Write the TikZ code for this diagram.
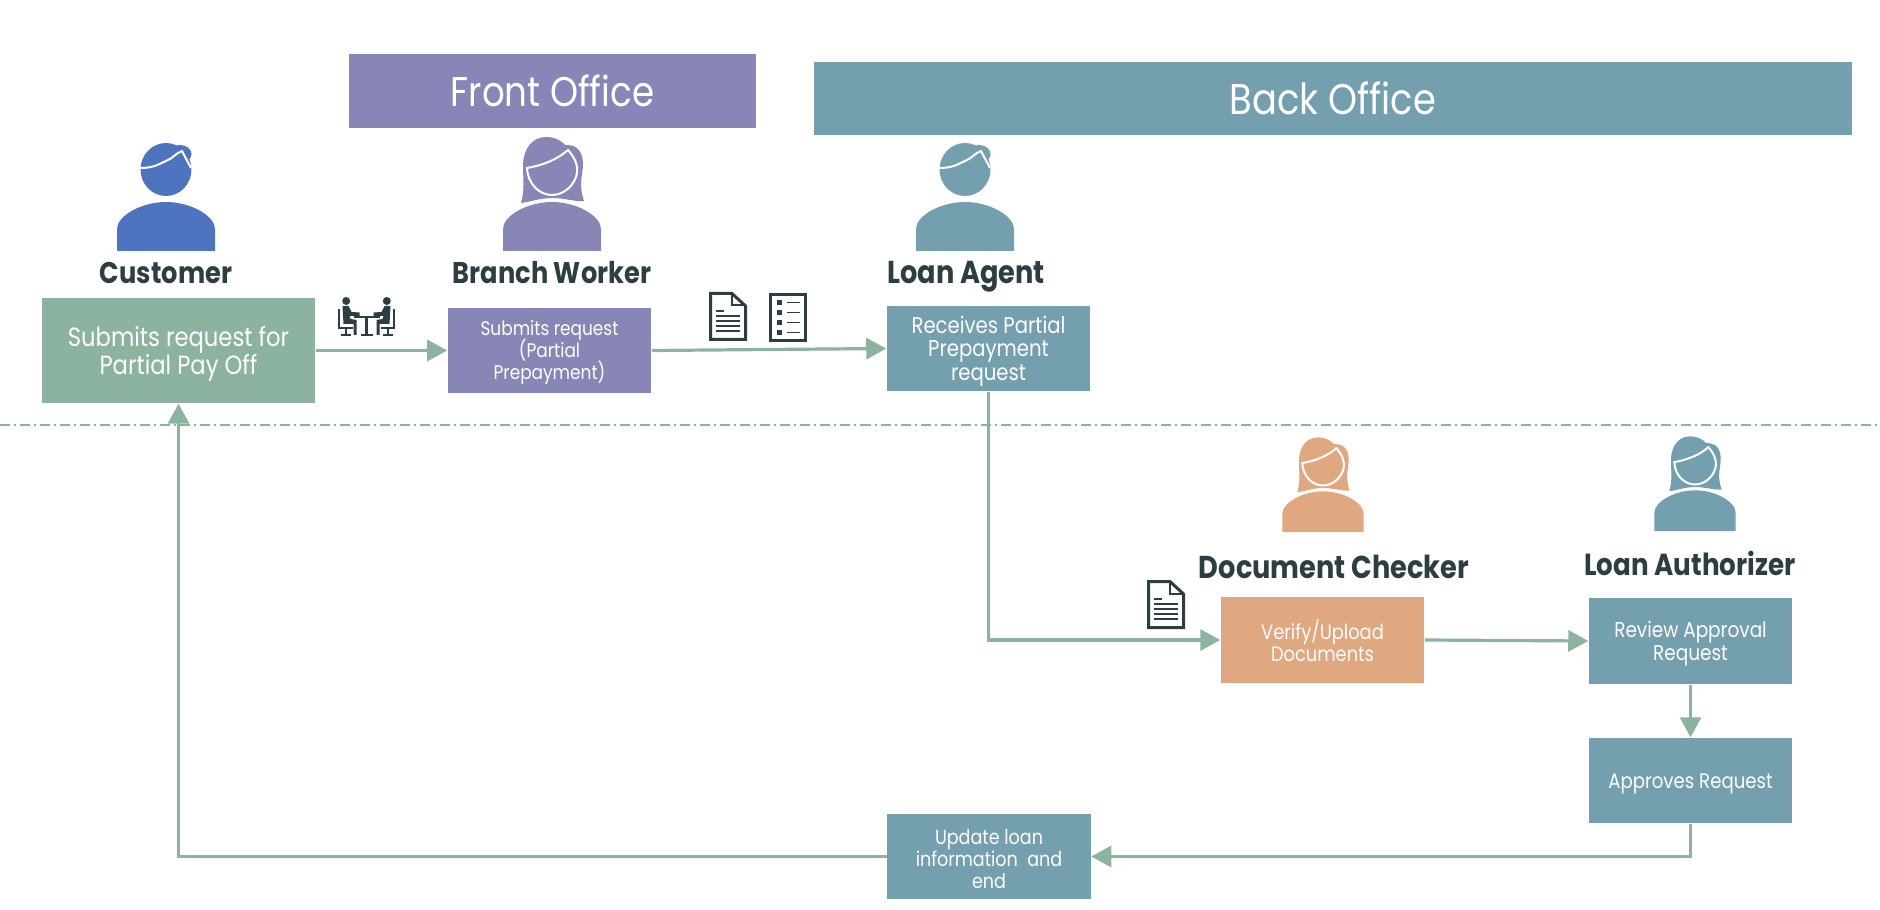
\documentclass[tikz,border=0pt]{standalone}
\usepackage{fontspec}
\setmainfont{Poppins}[FakeStretch=0.86]
\usetikzlibrary{arrows.meta}
\lineskiplimit=-5pt
\newcommand{\toppad}{\rule{0pt}{1em}}
\definecolor{frontpurple}{HTML}{8786B6}
\definecolor{backteal}{HTML}{749FAE}
\definecolor{flowgreen}{HTML}{8CB3A0}
\definecolor{checkorange}{HTML}{E0A880}
\definecolor{custblue}{HTML}{4E74BF}
\definecolor{inkdark}{HTML}{2D3E42}
\tikzset{
  header/.style={inner sep=0pt, text=white, font=\fontsize{#1}{14}\selectfont},
  rolename/.style={inner sep=0pt, text height=2.1mm, text depth=0mm, text=inkdark, font=\fontsize{#1}{10}\bfseries\selectfont},
  procbox/.style={inner sep=0pt, minimum width=2.03cm, minimum height=0.85cm, align=center, text=white},
  boxfont/.style 2 args={font=\fontsize{#1}{#2}\selectfont},
  flow/.style={draw=flowgreen, line width=0.032cm, -{Triangle[length=0.2cm,width=0.21cm]}},
  pics/man/.style={code={
    \fill[#1] (-49,0) -- (-49,-22) .. controls (-49,-35) and (-25,-49) .. (0,-49) .. controls (25,-49) and (49,-35) .. (49,-22) -- (49,0) -- cycle;
    \fill[#1] (0,-81.5) ellipse (25.5 and 26.5);
    \fill[#1] (14,-97) ellipse (11.5 and 9);
    \draw[white, line width=0.02cm] (-26,-83) .. controls (-10,-83) and (-6,-88) .. (0,-90) .. controls (6,-92) and (10,-98) .. (16,-100) -- (25,-83);
  }},
  pics/woman/.style={code={
    \fill[#1] (-49,0) -- (-49,-22) .. controls (-49,-35) and (-25,-49) .. (0,-49) .. controls (25,-49) and (49,-35) .. (49,-22) -- (49,0) -- cycle;
    \fill[#1] (-31,-48) .. controls (-27,-62) and (-29,-72) .. (-29,-85) .. controls (-29,-102) and (-20,-114) .. (-6,-114) .. controls (3,-114) and (10,-110) .. (13,-106) .. controls (20,-106) and (30,-105) .. (31,-88) .. controls (31,-75) and (26,-68) .. (32,-50) .. controls (24,-49) and (12,-53) .. (0,-53) .. controls (-12,-53) and (-22,-49) .. (-31,-48) -- cycle;
    \draw[white, line width=0.02cm] (-25,-83) .. controls (-8,-86) and (6,-92) .. (16,-101) .. controls (24,-92) and (26,-84) .. (25,-78) .. controls (23,-66) and (12,-56) .. (0,-56) .. controls (-12,-56) and (-24,-66) .. (-25,-83) -- cycle;
  }},
  pics/docicon/.style={code={
    \draw[inkdark, line width=0.03cm, line join=miter] (1.5,1.5) -- (23,1.5) -- (36.5,14) -- (36.5,47.5) -- (1.5,47.5) -- cycle;
    \draw[inkdark, line width=0.02cm] (23,1.5) -- (23,13.5) -- (36.5,13.5);
    \draw[inkdark, line width=0.017cm] (7,19) -- (15,19);
    \foreach \ly in {24,29,34,39} {
      \draw[inkdark, line width=0.017cm] (7,\ly) -- (31,\ly);
    }
  }},
  pics/listicon/.style={code={
    \draw[inkdark, line width=0.03cm] (1.5,1.5) rectangle (36.5,47.5);
    \foreach \ly in {9.5,19.5,29.5,39.5} {
      \fill[inkdark] (8,\ly-2.2) rectangle (13,\ly+2.2);
      \draw[inkdark, line width=0.017cm] (18,\ly) -- (31,\ly);
    }
  }},
  pics/sitter/.style={code={
    \fill[inkdark] (8.7,4) circle (4);
    \fill[inkdark] (5,9) -- (11,9) -- (14,15) -- (22,15.5) -- (22,19) -- (12,19) -- (13,22) -- (19,23) -- (19,38) -- (16,38) -- (16,27) -- (6,27) -- cycle;
    \draw[inkdark, line width=0.02cm] (1.5,12) -- (1.5,31) -- (15,31);
    \draw[inkdark, line width=0.02cm] (8,31) -- (8,38) (3,38) -- (13,38);
  }},
  pics/meetingicon/.style={code={
    \pic at (0,0) {sitter};
    \pic[xscale=-1] at (58,0) {sitter};
    \draw[inkdark, line width=0.02cm] (16,20) -- (42,20);
    \draw[inkdark, line width=0.025cm] (29,20) -- (29,37);
    \draw[inkdark, line width=0.02cm] (23,38) -- (35,38);
  }}
}
\begin{document}
\begin{tikzpicture}[x=0.01cm, y=-0.01cm]
        \useasboundingbox (0,0) rectangle (1880,910);

        %office bands
        \node[header=11.8, fill=frontpurple, minimum width=4.07cm, minimum height=0.74cm] (front) at (552.5,91) {Front Office};
        \node[header=12.2, fill=backteal, minimum width=10.38cm, minimum height=0.73cm] (back) at (1333,98.5) {Back Office};

        %people
        \pic at (166,251) {man=custblue};
        \pic at (552,251) {woman=frontpurple};
        \pic at (965,251) {man=backteal};
        \pic[scale=0.83] at (1323,532) {woman=checkorange};
        \pic[scale=0.83] at (1695,531) {woman=backteal};

        \node[rolename=8.5] (custname) at (166,273) {Customer};
        \node[rolename=8.5] (branchname) at (552,273) {Branch Worker};
        \node[rolename=9] (agentname) at (966,273) {Loan Agent};
        \node[rolename=9] (checkname) at (1334,568) {Document Checker};
        \node[rolename=8.65] (authname) at (1690,565) {Loan Authorizer};

        %process boxes
        \node[procbox, boxfont={7.5}{7.85}, fill=flowgreen, minimum width=2.73cm, minimum height=1.05cm] (cust) at (178.5,350.5) {\toppad Submits request for\\Partial Pay Off};
        \node[procbox, boxfont={5.6}{6.3}, fill=frontpurple] (branch) at (549.5,350.5) {\toppad Submits request\\(Partial\\Prepayment)};
        \node[procbox, boxfont={6.5}{6.8}, fill=backteal] (agent) at (988.5,348.5) {\toppad Receives Partial\\Prepayment\\request};
        \node[procbox, boxfont={5.9}{6.3}, fill=checkorange, minimum height=0.86cm] (verify) at (1322.5,640) {\toppad Verify/Upload\\Documents};
        \node[procbox, boxfont={6.1}{6.3}, fill=backteal, minimum height=0.86cm] (review) at (1690.5,641) {\toppad Review Approval\\Request};
        \node[procbox, boxfont={6}{6.3}, fill=backteal] (approve) at (1690.5,780.5) {\toppad Approves Request};
        \node[procbox, boxfont={5.8}{6.3}, fill=backteal] (update) at (989,856.5) {\toppad Update loan\\information~~and\\end};

        %icons
        \pic at (337.5,297) {meetingicon};
        \pic at (709,292) {docicon};
        \pic at (769,293) {listicon};
        \pic at (1147,580) {docicon};

        %divider
        \coordinate (divl) at (0,425);
        \coordinate (divr) at (1880,425);
        \draw[draw=flowgreen, line width=0.015cm, dash pattern=on 0.1cm off 0.04cm on 0.02cm off 0.04cm] (divl) -- (divr);

        %flow
        \draw[flow] (cust.east) -- (branch.west);
        \draw[flow] (branch.east) -- (agent.west);
        \draw[flow] (agent.south) |- (verify.west);
        \draw[flow] (verify.east) -- (review.west);
        \draw[flow] (review.south) -- (approve.north);
        \draw[flow] (approve.south) |- (update.east);
        \draw[flow] (update.west) -| (cust.south);
\end{tikzpicture}
\end{document}
